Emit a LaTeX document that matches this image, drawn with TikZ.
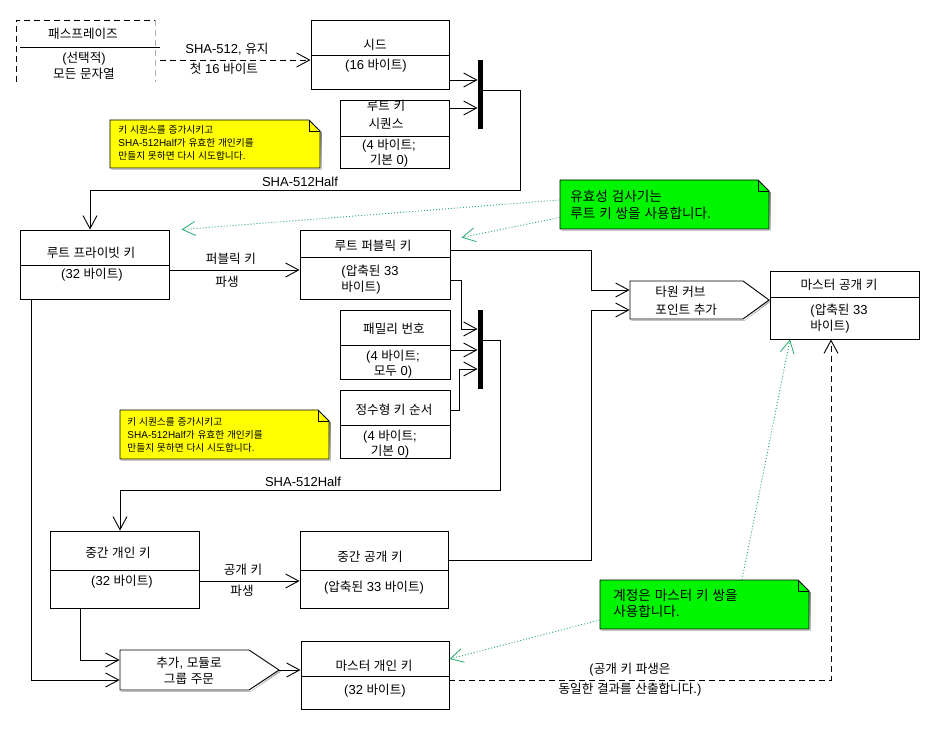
\documentclass[tikz,border=0pt]{standalone}
\usepackage{fontspec}
\setmainfont{Liberation Sans}
\newfontfamily\krfont[Scale=0.97]{Noto Sans CJK KR}
\usetikzlibrary{arrows.meta,fit,shadows}

% Hangul syllables are set in the Korean face, everything else in the main face
\newXeTeXintercharclass\hangulclass
\newcount\hgc
\hgc="AC00
\loop
  \XeTeXcharclass\hgc=\hangulclass
  \advance\hgc by 1
\ifnum\hgc<"D7A4 \repeat
\XeTeXinterchartoks 0 \hangulclass = {\krfont}
\XeTeXinterchartoks 4095 \hangulclass = {\krfont}
\XeTeXinterchartoks \hangulclass 0 = {\rmfamily}
\XeTeXinterchartoks \hangulclass 4095 = {\rmfamily}
\XeTeXinterchartokenstate=1

\definecolor{noteyellow}{RGB}{255,255,0}
\definecolor{notegreen}{RGB}{0,245,0}
\definecolor{hintline}{RGB}{40,170,110}
\definecolor{shade}{RGB}{120,120,120}

\tikzset{
  box/.style={draw, fill=white, inner sep=0pt,
    general shadow={fill=shade, shadow xshift=1.4pt, shadow yshift=-1.4pt}},
  bar/.style={fill=black, inner sep=0pt},
  txt/.style={inner sep=0pt, align=center},
  lefttxt/.style={inner sep=0pt, align=left, anchor=west},
  notetxt/.style={inner sep=0pt, align=left, anchor=west, font=\fontsize{10}{13}\selectfont},
  bignotetxt/.style={inner sep=0pt, align=left, anchor=west, font=\fontsize{14}{16.5}\selectfont},
  arrowto/.style={-{Straight Barb[length=13pt,width=14pt]}},
  dashline/.style={dash pattern=on 6pt off 4pt},
  hint/.style={hintline, dash pattern=on 1pt off 2pt,
    -{Straight Barb[length=13pt,width=14pt,line width=0.8pt]}},
}

% note with a folded top-right corner
\newcommand\stickynote[6]{%
  \fill[shade] (#2+1.5,#3+1.5) -- (#4+1.5-11,#3+1.5) -- (#4+1.5,#3+12.5)
    -- (#4+1.5,#5+1.5) -- (#2+1.5,#5+1.5) -- cycle;
  \draw[fill=#6] (#2,#3) -- (#4-11,#3) -- (#4,#3+11) -- (#4,#5) -- (#2,#5) -- cycle;
  \draw (#4-11,#3) -- (#4-11,#3+11) -- (#4,#3+11);
  \node[fit={(#2,#3) (#4,#5)}, inner sep=0pt] (#1) {};
}

% pentagon step box pointing right
\newcommand\stepshape[7]{% name, x1, y1, x2 (flat end), tip x, y2, tip y
  \fill[shade] (#2+1.5,#3+1.5) -- (#4+1.5,#3+1.5) -- (#5+1.5,#7+1.5)
    -- (#4+1.5,#6+1.5) -- (#2+1.5,#6+1.5) -- cycle;
  \draw[fill=white] (#2,#3) -- (#4,#3) -- (#5,#7) -- (#4,#6) -- (#2,#6) -- cycle;
  \node[fit={(#2,#3) (#5,#6)}, inner sep=0pt] (#1) {};
  \coordinate (#1-tip) at (#5,#7);
}

\begin{document}
\begin{tikzpicture}[x=1pt, y=-1pt, line width=0.9pt,
    font=\fontsize{13}{16}\selectfont]
\useasboundingbox (0,0) rectangle (940,730);

% ---------- passphrase ----------
\node[fit={(16,20) (160,82)}, inner sep=0pt] (pass) {};
\draw[dashline] (16,82) -- (16,20) -- (155,20);
\draw[dashline, shade!60] (155,20) -- (155,82);
\draw (20,47) -- (160,47);
\node[txt] (pass-t) at (83,34) {패스프레이즈};
\node[txt] (pass-b) at (84,66) {(선택적)\\모든 문자열};

% ---------- seed and root key sequence ----------
\node[box, fit={(311,20) (449,89)}] (seed) {};
\draw (311,55) -- (449,55);
\node[txt] (seed-t) at (375,45) {시드};
\node[txt] (seed-b) at (376,66) {(16 바이트)};

\draw[arrowto, dashline] (pass.east |- 0,60) -- (seed.west |- 0,60);
\node[txt] (sha-keep) at (227,49) {SHA-512, 유지};
\node[txt] (sha-first) at (224,69) {첫 16 바이트};

\node[box, fit={(340,100) (449,168)}] (rks) {};
\draw (340,136) -- (449,136);
\node[txt, font=\fontsize{13}{18}\selectfont] (rks-t) at (386,115) {루트 키\\시퀀스};
\node[txt, font=\fontsize{13}{15}\selectfont] (rks-b) at (389,153.5) {(4 바이트;\\기본 0)};

\node[bar, fit={(478,60) (483,129)}] (bar1) {};
\draw[arrowto] (seed.east |- 0,80) -- (bar1.west |- 0,80);
\draw[arrowto] (rks.east |- 0,108) -- (bar1.west |- 0,108);

\stickynote{note1}{110}{120}{320}{168}{noteyellow}
\node[notetxt] (note1-t) at (118,142.5) {키 시퀀스를 증가시키고\\SHA-512Half가 유효한 개인키를\\만들지 못하면 다시 시도합니다.};

% ---------- root key pair ----------
\node[box, fit={(20,230) (169,299)}] (rpriv) {};
\draw (20,265) -- (169,265);
\node[txt] (rpriv-t) at (91,253) {루트 프라이빗 키};
\node[txt] (rpriv-b) at (92,275) {(32 바이트)};

\draw[arrowto] (bar1.east |- 0,90) -- (520,90) -- (520,190) -- (90,190) -- (rpriv.north -| 90,0);
\node[txt] (sha-root) at (300,182) {SHA-512Half};

\node[box, fit={(300,230) (450,299)}] (rpub) {};
\draw (300,257) -- (450,257);
\node[txt] (rpub-t) at (373,246) {루트 퍼블릭 키};
\node[lefttxt] (rpub-b) at (341,280) {(압축된 33\\바이트)};

\draw[arrowto] (rpriv.east |- 0,270) -- (rpub.west |- 0,270);
\node[txt] (derive1) at (231,259) {퍼블릭 키};
\node[txt] (derive1b) at (227,282) {파생};

\stickynote{gnote1}{560}{180}{769}{229}{notegreen}
\node[bignotetxt] (gnote1-t) at (570,205) {유효성 검사기는\\루트 키 쌍을 사용합니다.};
\draw[hint] (gnote1.west |- 0,200) -- ([xshift=12pt]rpriv.north east);
\draw[hint] (gnote1.west |- 0,217.5) -- ([xshift=11pt,yshift=-8pt]rpub.north east);

% ---------- tweak and master public key ----------
\stepshape{tweak}{630}{281}{743}{769}{319}{300}
\node[lefttxt, font=\fontsize{13}{18}\selectfont] (tweak-t) at (655,301) {타원 커브\\포인트 추가};

\node[box, fit={(770,271) (919,339)}] (mpub) {};
\draw (770,297) -- (919,297);
\node[txt] (mpub-t) at (839,285) {마스터 공개 키};
\node[lefttxt] (mpub-b) at (810,319) {(압축된 33\\바이트)};

\draw[arrowto] (rpub.east |- 0,250) -- (591,250) -- (591,290) -- (tweak.west |- 0,290);

% ---------- family number and key order ----------
\node[box, fit={(340,310) (450,379)}] (fam) {};
\draw (340,345) -- (450,345);
\node[txt] (fam-t) at (394,329) {패밀리 번호};
\node[txt, font=\fontsize{13}{15}\selectfont] (fam-b) at (393,364) {(4 바이트;\\모두 0)};

\node[box, fit={(340,390) (450,458)}] (ord) {};
\draw (340,425) -- (450,425);
\node[txt] (ord-t) at (394,410) {정수형 키 순서};
\node[txt, font=\fontsize{13}{15}\selectfont] (ord-b) at (390,444.5) {(4 바이트;\\기본 0)};

\node[bar, fit={(478,310) (483,389)}] (bar2) {};
\draw[arrowto] (rpub.east |- 0,280) -- (461,280) -- (461,329) -- (bar2.west |- 0,329);
\draw[arrowto] (fam.east |- 0,350) -- (bar2.west |- 0,350);
\draw[arrowto] (ord.east |- 0,410) -- (459,410) -- (459,369) -- (bar2.west |- 0,369);

\stickynote{note2}{120}{410}{329}{459}{noteyellow}
\node[notetxt] (note2-t) at (127,435) {키 시퀀스를 증가시키고\\SHA-512Half가 유효한 개인키를\\만들지 못하면 다시 시도합니다.};

% ---------- intermediate key pair ----------
\node[box, fit={(50,531) (199,608)}] (ipriv) {};
\draw (50,570) -- (199,570);
\node[txt] (ipriv-t) at (118,553) {중간 개인 키};
\node[txt] (ipriv-b) at (122,582) {(32 바이트)};

\draw[arrowto] (bar2.east |- 0,340) -- (500,340) -- (500,490) -- (120,490) -- (ipriv.north -| 120,0);
\node[txt] (sha-mid) at (303,482) {SHA-512Half};

\node[box, fit={(300,531) (448,608)}] (ipub) {};
\draw (300,570) -- (448,570);
\node[txt] (ipub-t) at (370,557) {중간 공개 키};
\node[txt] (ipub-b) at (374,588) {(압축된 33 바이트)};

\draw[arrowto] (ipriv.east |- 0,581) -- (ipub.west |- 0,581);
\node[txt] (derive2) at (243,570) {공개 키};
\node[txt] (derive2b) at (242,591) {파생};

\draw[arrowto] (ipub.east |- 0,560) -- (591,560) -- (591,310) -- (tweak.west |- 0,310);

% ---------- master private key ----------
\stepshape{addmod}{120}{650}{249}{279}{690}{670}
\node[txt] (addmod-t) at (189,671) {추가, 모듈로\\그룹 주문};

\node[box, fit={(301,641) (449,709)}] (mpriv) {};
\draw (301,676) -- (449,676);
\node[txt] (mpriv-t) at (374,666) {마스터 개인 키};
\node[txt] (mpriv-b) at (375,691) {(32 바이트)};

\draw[arrowto] (rpriv.south -| 31,0) -- (31,680) -- (addmod.west |- 0,680);
\draw[arrowto] (ipriv.south -| 80,0) -- (80,660) -- (addmod.west |- 0,660);
\draw[arrowto] (addmod-tip) -- (mpriv.west |- addmod-tip);

\draw[arrowto, dashline] (mpriv.east |- 0,680) -- (831,680) -- (mpub.south -| 831,0);
\node[txt, font=\fontsize{13}{20}\selectfont] (same) at (630,680) {(공개 키 파생은\\동일한 결과를 산출합니다.)};

\stickynote{gnote2}{600}{580}{809}{629}{notegreen}
\node[bignotetxt] (gnote2-t) at (613,603.5) {계정은 마스터 키 쌍을\\사용합니다.};
\draw[hint] (gnote2.west |- 0,620) -- (mpriv.east |- 0,659);
\draw[hint] (gnote2.north -| 742,0) -- (mpub.south -| 790,0);

\end{tikzpicture}
\end{document}
